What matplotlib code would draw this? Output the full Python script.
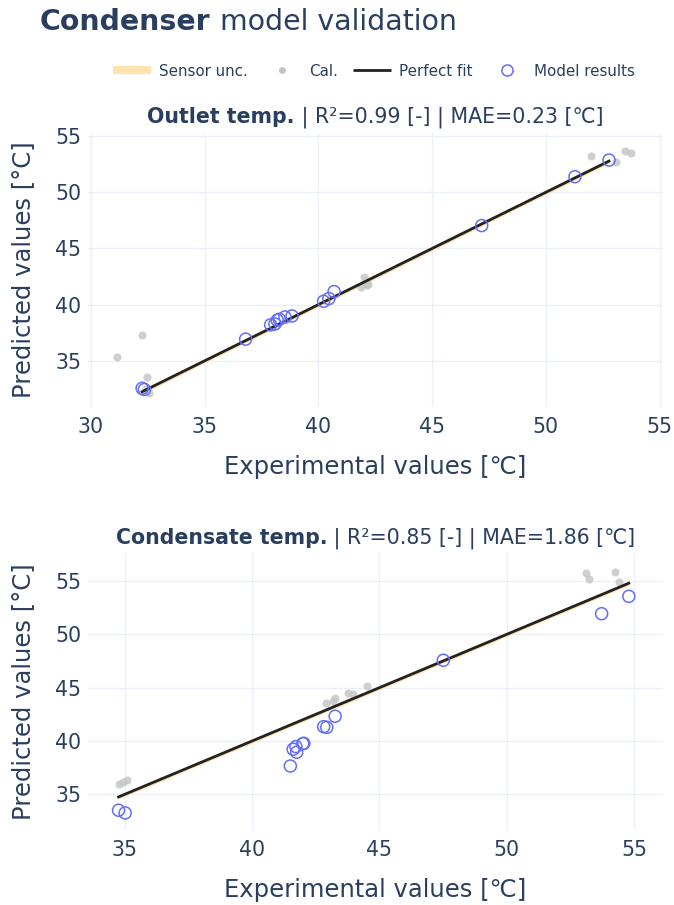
import numpy as np
import matplotlib.pyplot as plt
from matplotlib.lines import Line2D

plt.rcParams['font.family'] = ['DejaVu Sans']

TXT = '#2a3f5f'
GRID = '#ebf0f8'

# Outlet temperature
out_exp = [32.25, 32.35, 36.8, 37.9, 38.09, 38.19, 38.28, 38.53, 38.84, 40.23, 40.46, 40.69, 47.18, 51.28, 52.78]
out_mod = [32.55, 32.45, 36.93, 38.2, 38.28, 38.61, 38.7, 38.9, 38.99, 40.3, 40.54, 41.16, 47.04, 51.39, 52.87]
out_cal_x = [31.16, 32.23, 32.45, 32.56, 32.4, 42.02, 41.87, 42.15, 42.2, 51.99, 53.1, 53.48, 53.73]
out_cal_y = [35.36, 37.28, 33.55, 32.11, 32.5, 42.48, 41.6, 41.74, 41.8, 53.2, 52.66, 53.7, 53.5]

# Condensate temperature
con_exp = [34.75, 35.01, 41.5, 41.61, 41.72, 41.75, 41.99, 42.03, 42.81, 42.93, 43.26, 47.51, 53.73, 54.8]
con_mod = [33.5, 33.25, 37.65, 39.22, 39.47, 38.94, 39.75, 39.78, 41.34, 41.28, 42.32, 47.57, 51.94, 53.57]
con_cal_x = [34.78, 34.91, 35.07, 42.89, 43.19, 43.25, 43.77, 43.95, 44.5, 53.11, 53.22, 54.24, 54.42]
con_cal_y = [35.97, 36.18, 36.34, 43.59, 43.75, 44.06, 44.47, 44.38, 45.16, 55.73, 55.22, 55.88, 54.92]

unc = 0.2
ticks = [30, 35, 40, 45, 50, 55]

panels = [
    dict(bold='Outlet temp.', rest=' | R²=0.99 [-] | MAE=0.23 [℃]',
         ex=out_exp, mo=out_mod, cx=out_cal_x, cy=out_cal_y,
         rect=[0.1306, 0.5503, 0.853, 0.303], xlim=(29.87, 55.15), ylim=(30.89, 55.3)),
    dict(bold='Condensate temp.', rest=' | R²=0.85 [-] | MAE=1.86 [℃]',
         ex=con_exp, mo=con_mod, cx=con_cal_x, cy=con_cal_y,
         rect=[0.1306, 0.0829, 0.853, 0.306], xlim=(33.55, 56.14), ylim=(31.65, 57.63)),
]

fig = plt.figure(figsize=(6.74, 9.05), dpi=100)
axes = []
for p in panels:
    ax = fig.add_axes(p['rect'])
    axes.append(ax)
    ex = np.array(p['ex'])
    lo, hi = ex.min(), ex.max()
    line = np.array([lo, hi])
    ax.fill_between(line, line - unc, line + unc, color='#fde3ae', lw=0, zorder=2)
    ax.scatter(p['cx'], p['cy'], s=34, color='#c4c4c4', alpha=0.8, lw=0, zorder=3)
    ax.plot(line, line, color='#222222', lw=2, zorder=4)
    ax.scatter(p['ex'], p['mo'], s=75, facecolors='none', edgecolors='#636efa', lw=1.1, zorder=5)
    ax.set_xlim(*p['xlim'])
    ax.set_ylim(*p['ylim'])
    ax.set_xticks([t for t in ticks if p['xlim'][0] <= t <= p['xlim'][1]])
    ax.set_yticks([t for t in ticks if p['ylim'][0] <= t <= p['ylim'][1]])
    ax.grid(True, color=GRID, lw=1)
    ax.set_axisbelow(True)
    for s in ax.spines.values():
        s.set_visible(False)
    ax.tick_params(length=0, labelsize=14.8, colors=TXT)
    ax.tick_params(axis='x', pad=7)
    ax.tick_params(axis='y', pad=5)
    ax.set_xlabel('Experimental values [℃]', fontsize=17.5, color=TXT, labelpad=13)
    ax.set_ylabel('Predicted values [°C]', fontsize=17.5, color=TXT, labelpad=14.5)

r = fig.canvas.get_renderer()

# title
t1 = fig.text(40 / 674, 1 - 22 / 905, 'Condenser', fontsize=20.4, fontweight='bold', color=TXT, va='center')
fig.canvas.draw()
bb = t1.get_window_extent(r)
fig.text(bb.x1 / fig.bbox.width, 1 - 22 / 905, ' model validation', fontsize=20.4, color=TXT, va='center')

# subplot titles: bold part followed by regular part, centred over the axes
for ax, p, ypx in zip(axes, panels, [117, 538]):
    y = 1 - ypx / 905
    a = fig.text(0, y, p['bold'], fontsize=14.8, fontweight='bold', color=TXT, va='center')
    b = fig.text(0, y, p['rest'], fontsize=14.8, color=TXT, va='center')
    fig.canvas.draw()
    wa = a.get_window_extent(r).width
    wb = b.get_window_extent(r).width
    pos = ax.get_position()
    cx = (pos.x0 + pos.x1) / 2 * fig.bbox.width
    x0 = cx - (wa + wb) / 2
    a.set_x(x0 / fig.bbox.width)
    b.set_x((x0 + wa) / fig.bbox.width)

handles = [
    Line2D([], [], color='#fde3ae', lw=6, solid_capstyle='butt'),
    Line2D([], [], ls='none', marker='o', ms=5, color='#c4c4c4', mew=0),
    Line2D([], [], color='#222222', lw=2, solid_capstyle='butt'),
    Line2D([], [], ls='none', marker='o', ms=8, mfc='none', mec='#636efa', mew=1.1),
]
fig.legend(handles, ['Sensor unc.', 'Cal.', 'Perfect fit', 'Model results'],
           loc='center', bbox_to_anchor=(374 / 674, 1 - 71 / 905), ncol=4, frameon=False,
           fontsize=10.9, labelcolor=TXT, handlelength=2.5, columnspacing=1.0, handletextpad=0.55)

fig.savefig('out.png', dpi=100)
